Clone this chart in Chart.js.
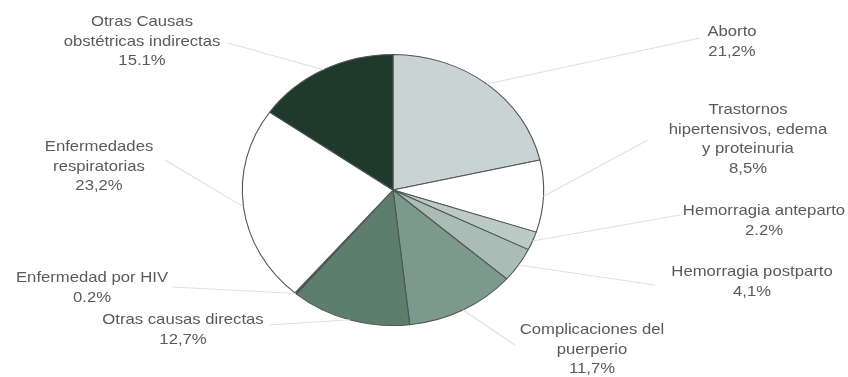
<!DOCTYPE html>
<html>
<head>
<meta charset="utf-8">
<script src="https://cdn.jsdelivr.net/npm/chart.js@4"></script>
<style>
  html, body { margin: 0; padding: 0; background: #fff; }
  canvas { display: block; }
</style>
</head>
<body>
<canvas id="myChart" width="848" height="377"></canvas>
<script>
// data
const categories = [
  ['Aborto'],
  ['Trastornos', 'hipertensivos, edema', 'y proteinuria'],
  ['Hemorragia anteparto'],
  ['Hemorragia postparto'],
  ['Complicaciones del', 'puerperio'],
  ['Otras causas directas'],
  ['Enfermedad por HIV'],
  ['Enfermedades', 'respiratorias'],
  ['Otras Causas', 'obstétricas indirectas']
];
const values = [21.2, 8.5, 2.2, 4.1, 11.7, 12.7, 0.2, 23.2, 15.1];
const pctLabels = ['21,2%', '8,5%', '2.2%', '4,1%', '11,7%', '12,7%', '0.2%', '23,2%', '15.1%'];

const colors = ['#c8d3d3', '#ffffff', '#bccac6', '#a9bdb6', '#7b9a8d', '#5d7d6d', '#3c5a4a', '#ffffff', '#1f3a2a'];

// label placement (screen px): first line centre, and where the leader line ends
const labelPos = [[732, 32], [748, 110], [764, 211], [752, 272], [592, 330], [183, 320], [92, 278], [99, 147], [142, 22]];
const leaderEnd = [[700, 38], [648, 140], [680, 215], [655, 285], [515, 345], [270, 325], [172, 287], [165, 160], [228, 43]];

// the picture is stretched horizontally
const SX = 1.112;
const CX = 393, CY = 190, R = 135.5;
const lineH = 19.5;

const stretch = {
  id: 'stretch',
  beforeDraw(chart) { chart.ctx.save(); chart.ctx.scale(SX, 1); },
  afterDraw(chart) { chart.ctx.restore(); }
};

const sliceLabels = {
  id: 'sliceLabels',
  afterDatasetsDraw(chart) {
    const ctx = chart.ctx;
    const arcs = chart.getDatasetMeta(0).data;
    ctx.save();
    arcs.forEach((arc, i) => {
      const mid = (arc.startAngle + arc.endAngle) / 2;
      const x0 = arc.x + Math.cos(mid) * arc.outerRadius;
      const y0 = arc.y + Math.sin(mid) * arc.outerRadius;
      ctx.strokeStyle = '#e0e0e0';
      ctx.lineWidth = 1;
      ctx.beginPath();
      ctx.moveTo(x0, y0);
      ctx.lineTo(leaderEnd[i][0] / SX, leaderEnd[i][1]);
      ctx.stroke();

      const lines = categories[i].concat([pctLabels[i]]);
      ctx.fillStyle = '#5a5a5a';
      ctx.font = '15px "Liberation Sans", Arial, sans-serif';
      ctx.textAlign = 'center';
      ctx.textBaseline = 'middle';
      lines.forEach((t, j) => {
        ctx.fillText(t, labelPos[i][0] / SX, labelPos[i][1] + j * lineH);
      });
    });
    ctx.restore();
  }
};

const areaW = 2 * R + 1;
const padLeft = CX / SX - areaW / 2;
const padTop = CY - areaW / 2;

new Chart(document.getElementById('myChart').getContext('2d'), {
  type: 'pie',
  data: {
    labels: categories.map(c => c.join(' ')),
    datasets: [{
      data: values,
      backgroundColor: colors,
      borderColor: '#505552',
      borderWidth: 1
    }]
  },
  options: {
    responsive: false,
    animation: false,
    layout: {
      padding: { left: padLeft, top: padTop, right: 848 - padLeft - areaW, bottom: 377 - padTop - areaW }
    },
    plugins: {
      legend: { display: false },
      tooltip: { enabled: false }
    }
  },
  plugins: [stretch, sliceLabels]
});
</script>
</body>
</html>
